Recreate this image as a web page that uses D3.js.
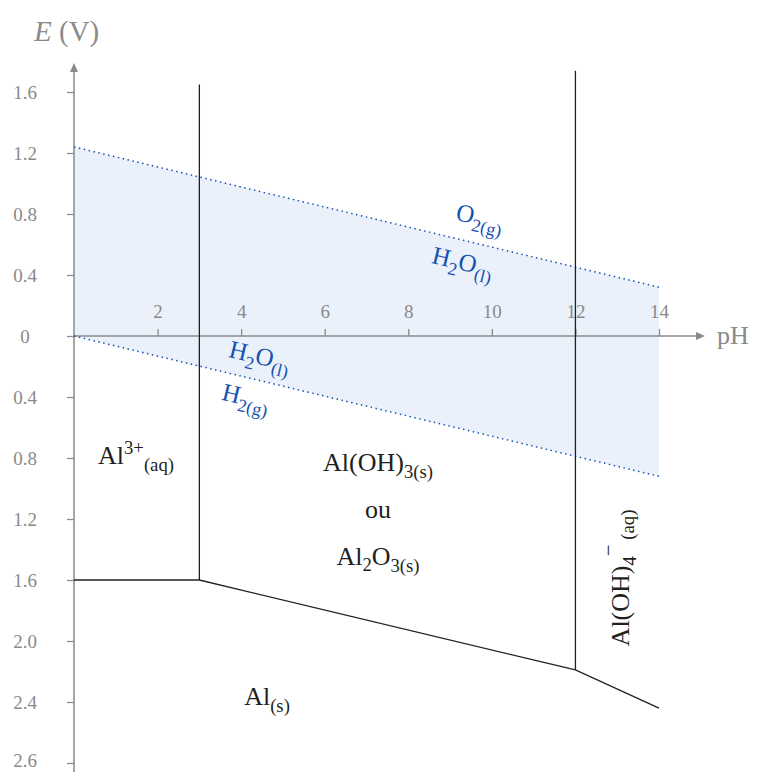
<!DOCTYPE html>
<meta charset="utf-8">
<html>
<head>
<script src="https://d3js.org/d3.v7.min.js"></script>
<style>
  body { margin: 0; background: #fff; }
</style>
</head>
<body>
<div id="viz"></div>
<script>
// pH / potential data
const phTicks = [2, 4, 6, 8, 10, 12, 14];
const eTicks = [1.6, 1.2, 0.8, 0.4, 0, -0.4, -0.8, -1.2, -1.6, -2.0, -2.4, -2.8];
const eTickLabels = ["1.6", "1.2", "0.8", "0.4", "0", "0.4", "0.8", "1.2", "1.6", "2.0", "2.4", "2.6"];
const waterPH = [0, 14];
const o2E = [1.24, 0.32];
const h2E = [0, -0.92];
const boundaryPH = [0, 3, 12, 14];
const boundaryE = [-1.6, -1.6, -2.19, -2.44];
const verticalPH = [3, 12];
const verticalTop = [1.65, 1.74];
const verticalBottom = [-1.6, -2.19];

const W = 759, H = 772;
const serif = '"Liberation Serif", "DejaVu Serif", serif';
const svg = d3.select('#viz').append('svg').attr('width', W).attr('height', H)
  .attr('font-family', serif);

const x = d3.scaleLinear().domain([0, 14]).range([74, 659]);
const y = d3.scaleLinear().domain([0, 1.6]).range([336, 92]);

const grey = '#8a8a8a', blue = '#1652b0', ink = '#231f20';

// water stability band
const band = d3.area()
  .x((d, i) => x(waterPH[i]))
  .y0((d, i) => y(h2E[i]))
  .y1((d, i) => y(o2E[i]));
svg.append('path').datum(waterPH).attr('d', band).attr('fill', '#eaf1fb');

// axes
const yAxis = d3.axisLeft(y).tickValues(eTicks).tickSize(7)
  .tickFormat((d, i) => eTickLabels[i]);
const gy = svg.append('g').attr('transform', `translate(${x(0)},0)`).call(yAxis)
  .attr('font-family', serif).attr('font-size', 19);
gy.select('.domain').remove();
gy.selectAll('line').attr('stroke', grey).attr('stroke-width', 1.3);
gy.selectAll('text').attr('fill', grey)
  .attr('x', -49).attr('text-anchor', 'middle')
  .attr('dy', (d, i) => i === eTicks.length - 1 ? '0.2em' : '0.32em');
svg.append('line').attr('x1', x(0)).attr('x2', x(0)).attr('y1', 70).attr('y2', H)
  .attr('stroke', grey).attr('stroke-width', 1.5);
svg.append('path').attr('d', `M${x(0)},63 l-4,9 l8,0 z`).attr('fill', grey);

const xAxis = d3.axisTop(x).tickValues(phTicks).tickSize(7).tickFormat(d3.format('d'));
const gx = svg.append('g').attr('transform', `translate(0,${y(0)})`).call(xAxis)
  .attr('font-family', serif).attr('font-size', 19);
gx.select('.domain').remove();
gx.selectAll('line').attr('stroke', grey).attr('stroke-width', 1.3);
gx.selectAll('text').attr('fill', grey).attr('y', -18);
svg.append('line').attr('x1', x(0)).attr('x2', 697).attr('y1', y(0)).attr('y2', y(0))
  .attr('stroke', grey).attr('stroke-width', 1.5);
svg.append('path').attr('d', `M705,${y(0)} l-9,-4 l0,8 z`).attr('fill', grey);

svg.append('text').attr('x', 717).attr('y', y(0) + 8).attr('fill', grey)
  .attr('font-size', 26).text('pH');
const yl = svg.append('text').attr('x', 34).attr('y', 41).attr('fill', grey).attr('font-size', 29);
yl.append('tspan').attr('font-style', 'italic').text('E');
yl.append('tspan').text(' (V)');

// water lines
const wline = (vals) => d3.line().x((d, i) => x(waterPH[i])).y((d, i) => y(vals[i]))(waterPH);
[o2E, h2E].forEach(v => {
  svg.append('path').attr('d', wline(v)).attr('fill', 'none')
    .attr('stroke', blue).attr('stroke-width', 1.5).attr('stroke-dasharray', '1.5,3.5');
});

// boundaries
svg.append('path')
  .attr('d', d3.line().x(d => x(d)).y((d, i) => y(boundaryE[i]))(boundaryPH))
  .attr('fill', 'none').attr('stroke', ink).attr('stroke-width', 1.3);
verticalPH.forEach((p, i) => {
  svg.append('line').attr('x1', x(p)).attr('x2', x(p))
    .attr('y1', y(verticalTop[i])).attr('y2', y(verticalBottom[i]))
    .attr('stroke', ink).attr('stroke-width', 1.3);
});

// chemical labels: parts = [text, shift (px, up positive), scale]
function chem(px, py, parts, opts) {
  const o = Object.assign({ size: 26, color: ink, rotate: 0, anchor: 'middle' }, opts || {});
  const t = svg.append('text')
    .attr('transform', `translate(${px},${py}) rotate(${o.rotate})`)
    .attr('text-anchor', o.anchor).attr('fill', o.color).attr('font-size', o.size);
  let prev = 0;
  parts.forEach(([s, shift, sc]) => {
    t.append('tspan').attr('dy', prev - shift).attr('font-size', o.size * (sc || 1)).text(s);
    prev = shift;
  });
  return t;
}

const ang = Math.atan2(y(o2E[1]) - y(o2E[0]), x(14) - x(0)) * 180 / Math.PI;
const bs = { color: blue, rotate: ang, size: 25 };
chem(478, 225, [['O', 0], ['2(g)', -7, 0.72]], bs);
chem(461, 270, [['H', 0], ['2', -7, 0.72], ['O', 0], ['(l)', -7, 0.72]], bs);
chem(258, 364, [['H', 0], ['2', -7, 0.72], ['O', 0], ['(l)', -7, 0.72]], bs);
chem(244, 405, [['H', 0], ['2(g)', -7, 0.72]], bs);

chem(136, 464, [['Al', 0], ['3+', 10, 0.72], ['(aq)', -7, 0.72]]);
chem(378, 471, [['Al(OH)', 0], ['3(s)', -7, 0.72]]);
chem(378, 518, [['ou', 0]]);
chem(378, 565, [['Al', 0], ['2', -6, 0.72], ['O', 0], ['3(s)', -7, 0.72]]);
chem(267, 705, [['Al', 0], ['(s)', -7, 0.72]]);
chem(629, 578, [['Al(OH)', 0], ['4', -7, 0.72], ['\u2212', 14, 0.8], [' (aq)', -5, 0.72]], { rotate: -90 });
</script>
</body>
</html>
